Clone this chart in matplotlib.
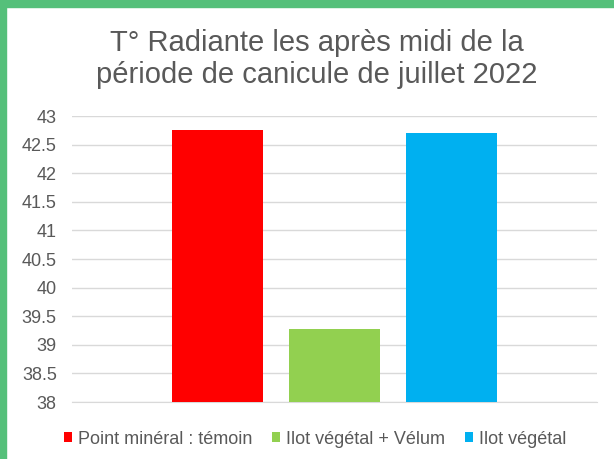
import matplotlib
matplotlib.use("Agg")
import matplotlib.pyplot as plt
from matplotlib.patches import Rectangle

series = ["Point minéral : témoin", "Ilot végétal + Vélum", "Ilot végétal"]
valeurs = [42.75, 39.28, 42.70]
couleurs = ["#FF0000", "#92D050", "#00B0F0"]
yticks = [38, 38.5, 39, 39.5, 40, 40.5, 41, 41.5, 42, 42.5, 43]

plt.rcParams['font.family'] = ['Liberation Sans', 'DejaVu Sans']
gris = "#595959"

fig = plt.figure(figsize=(6.14, 4.59), dpi=100)
ax = fig.add_axes([72 / 614, 1 - 402 / 459, 525 / 614, 286 / 459])

for i, (nom, v, c) in enumerate(zip(series, valeurs, couleurs)):
    ax.bar(i, v - 38, bottom=38, width=0.778, color=c, label=nom, zorder=3)

ax.set_ylim(38, 43)
ax.set_xlim(1 - 2.244, 1 + 2.244)
ax.set_yticks(yticks)
ax.set_yticklabels([f"{t:g}" for t in yticks], color=gris, fontsize=13)
ax.set_xticks([])
ax.tick_params(axis='y', length=0, pad=11)
ax.grid(axis='y', color="#d9d9d9", linewidth=1, zorder=0)
for s in ['top', 'right', 'left']:
    ax.spines[s].set_visible(False)
ax.spines['bottom'].set_color("#d9d9d9")
ax.spines['bottom'].set_zorder(0)

fig.text(0.516, 1 - 59 / 459, "T° Radiante les après midi de la\npériode de canicule de juillet 2022",
         ha='center', va='center', fontsize=21, color=gris, linespacing=1.22)

fig.legend(loc='center', bbox_to_anchor=(315 / 614, 1 - 439 / 459), ncol=3, frameon=False,
           fontsize=13, handlelength=0.45, handleheight=0.45, handletextpad=0.33,
           columnspacing=1.1, labelcolor=gris)

# bordure verte
fig.patches.append(Rectangle((0, 0), 6 / 614, 1, transform=fig.transFigure,
                             color="#55C07A", zorder=10))
fig.patches.append(Rectangle((0, 1 - 7 / 459), 1, 7 / 459, transform=fig.transFigure,
                             color="#55C07A", zorder=10))

fig.savefig("out.png", dpi=100)
